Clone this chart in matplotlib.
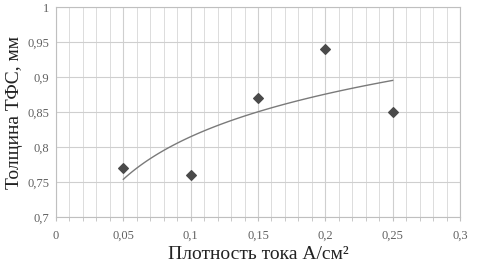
import numpy as np
import matplotlib
matplotlib.use("Agg")
import matplotlib.pyplot as plt
from matplotlib.ticker import MultipleLocator, FuncFormatter

# current density, A/cm2 and layer thickness, mm
density = [0.05, 0.1, 0.15, 0.2, 0.25]
thickness = [0.77, 0.76, 0.87, 0.94, 0.85]

plt.rcParams['font.family'] = ['Liberation Serif', 'DejaVu Serif']

# logarithmic trend line, fitted to the points
a, b = np.polyfit(np.log(density), thickness, 1)
xt = np.linspace(min(density), max(density), 100)
yt = a * np.log(xt) + b

fig = plt.figure(figsize=(4.89, 2.72), dpi=100)
ax = fig.add_axes([0.1145, 0.202, 0.8262, 0.772])

ax.plot(xt, yt, color="#7a7a7a", lw=1.0, zorder=3)
ax.scatter(density, thickness, marker="D", s=24, color="#4a4a4a", zorder=4)

ax.set_xlim(0, 0.3)
ax.set_ylim(0.7, 1.0)
ax.xaxis.set_major_locator(MultipleLocator(0.05))
ax.xaxis.set_minor_locator(MultipleLocator(0.01))
ax.yaxis.set_major_locator(MultipleLocator(0.05))

comma = FuncFormatter(lambda v, p: ("%g" % round(v, 2)).replace(".", ","))
ax.xaxis.set_major_formatter(comma)
ax.yaxis.set_major_formatter(comma)

ax.grid(True, which="major", color="#cfcfcf", lw=0.8)
ax.grid(True, which="minor", axis="x", color="#dcdcdc", lw=0.7)
ax.set_axisbelow(True)
for s in ax.spines.values():
    s.set_color("#bfbfbf")
    s.set_linewidth(0.8)

ax.tick_params(which="both", colors="#bfbfbf", labelcolor="#606060", labelsize=9, length=3)
ax.tick_params(axis="y", length=0, pad=5)
ax.tick_params(axis="x", which="major", pad=6)

ax.set_xlabel("Плотность тока А/см²", fontsize=14, color="#222222", labelpad=3)
ax.set_ylabel("Толщина ТФС, мм", fontsize=14, color="#222222", labelpad=3)

fig.savefig("out.png", dpi=100)
